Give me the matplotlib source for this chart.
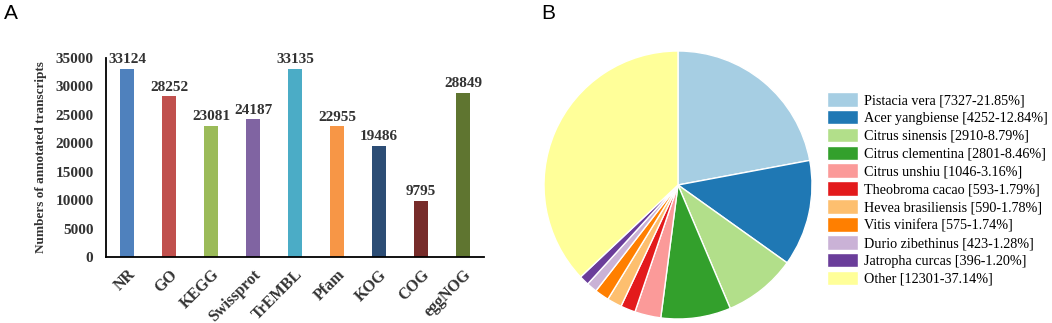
import matplotlib.pyplot as plt
import numpy as np

# bar chart data
databases = ['NR', 'GO', 'KEGG', 'Swissprot', 'TrEMBL', 'Pfam', 'KOG', 'COG', 'eggNOG']
counts = [33124, 28252, 23081, 24187, 33135, 22955, 19486, 9795, 28849]
bar_colors = ['#4f81bd', '#c0504d', '#9bbb59', '#8064a2', '#4bacc6',
              '#f79646', '#2c4d75', '#772c2a', '#5f7530']

# pie chart data
species = ['Pistacia vera', 'Acer yangbiense', 'Citrus sinensis', 'Citrus clementina',
           'Citrus unshiu', 'Theobroma cacao', 'Hevea brasiliensis', 'Vitis vinifera',
           'Durio zibethinus', 'Jatropha curcas', 'Other']
hits = [7327, 4252, 2910, 2801, 1046, 593, 590, 575, 423, 396, 12301]
pcts = ['21.85', '12.84', '8.79', '8.46', '3.16', '1.79', '1.78', '1.74', '1.28', '1.20', '37.14']
pie_colors = ['#a6cee3', '#1f78b4', '#b2df8a', '#33a02c', '#fb9a99', '#e31a1c',
              '#fdbf6f', '#ff7f00', '#cab2d6', '#6a3d9a', '#ffff99']

serif = ['Liberation Serif', 'DejaVu Serif']

fig = plt.figure(figsize=(10.52, 3.23), dpi=100)

# panel A
ax = fig.add_axes([106 / 1052, 1 - 257 / 323, 378 / 1052, 199 / 323])
x = np.arange(len(databases))
ax.bar(x, counts, width=0.31, color=bar_colors)
for xi, c in zip(x, counts):
    ax.text(xi, c + 500, str(c), ha='center', va='bottom', family=serif,
            fontweight='bold', fontsize=11, color='#333333')
ax.set_xlim(-0.5, len(databases) - 0.5)
ax.set_ylim(0, 35000)
ax.set_yticks(range(0, 35001, 5000))
ax.set_yticklabels([str(v) for v in range(0, 35001, 5000)], family=serif,
                   fontweight='bold', fontsize=11, color='#333333')
ax.set_xticks(x)
ax.set_xticklabels(databases, rotation=45, ha='right', rotation_mode='anchor',
                   family=serif, fontweight='bold', fontsize=11.5, color='#333333')
ax.tick_params(axis='x', length=0, pad=7)
ax.tick_params(axis='y', length=0, pad=9)
ax.set_ylabel('Numbers of annotated transcripts', family=serif, fontweight='bold',
              fontsize=9.5, color='#333333', labelpad=6)
ax.spines['top'].set_visible(False)
ax.spines['right'].set_visible(False)
ax.spines['left'].set_linewidth(1.3)
ax.spines['bottom'].set_linewidth(1.3)

fig.text(4 / 1052, 1 - 4 / 323, 'A', family=['Liberation Sans'], fontsize=15,
         va='top', ha='left')
fig.text(541 / 1052, 1 - 4 / 323, 'B', family=['Liberation Sans'], fontsize=15,
         va='top', ha='left')

# panel B
r = 134
pax = fig.add_axes([(678 - r) / 1052, 1 - (185 + r) / 323, 2 * r / 1052, 2 * r / 323])
wedges, _ = pax.pie(hits, colors=pie_colors, startangle=90, counterclock=False,
                    wedgeprops=dict(edgecolor='white', linewidth=1))
pax.set_xlim(-1, 1)
pax.set_ylim(-1, 1)
pax.set_aspect('equal')

labels = ['%s [%d-%s%%]' % (s, h, p) for s, h, p in zip(species, hits, pcts)]
fig.legend(wedges, labels, loc='upper left', bbox_to_anchor=(827 / 1052, 1 - 92 / 323),
           frameon=False, prop={'family': serif, 'size': 10.2},
           handlelength=2.2, handleheight=1.2, handletextpad=0.4,
           labelspacing=0.2, borderaxespad=0, borderpad=0)

fig.savefig('out.png', dpi=100)
